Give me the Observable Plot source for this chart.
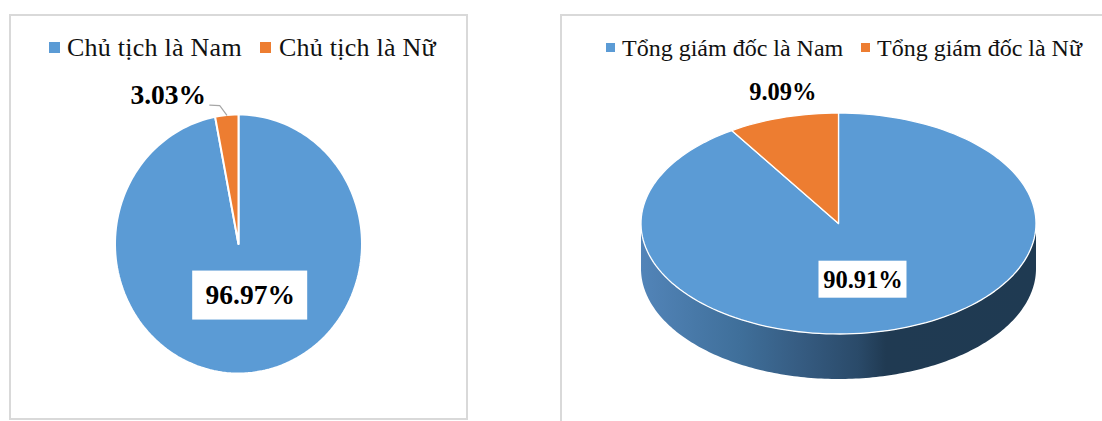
<!DOCTYPE html>
<html>
<head>
<meta charset="utf-8">
<script src="https://cdn.jsdelivr.net/npm/d3@7"></script>
<script src="https://cdn.jsdelivr.net/npm/@observablehq/plot@0.6"></script>
<style>
  html, body { margin: 0; padding: 0; background: #fff; }
  #page { position: relative; width: 1102px; height: 421px; overflow: hidden; font-family: "Liberation Serif", serif; }
  .frame { position: absolute; box-sizing: border-box; border: 2px solid #d9d9d9; }
  #frame-a { left: 9px; top: 14px; width: 459px; height: 406px; }
  #frame-b { left: 560px; top: 14px; width: 560px; height: 430px; }
  .panel { position: absolute; top: 0; width: 551px; height: 421px; }
  .panel svg { background: transparent; display: block; }
  .legend-item { position: absolute; white-space: nowrap; color: #111; line-height: 1; }
  .swatch { position: absolute; }
</style>
</head>
<body>
<div id="page">
  <div class="frame" id="frame-a"></div>
  <div class="frame" id="frame-b"></div>
  <div class="panel" id="panel-a" style="left:0"></div>
  <div class="panel" id="panel-b" style="left:551px"></div>
</div>
<script>
// Board chair and chief executive shares by gender
const chairCategories = ["Chủ tịch là Nam", "Chủ tịch là Nữ"];
const chairValues = [96.97, 3.03];
const ceoCategories = ["Tổng giám đốc là Nam", "Tổng giám đốc là Nữ"];
const ceoValues = [90.91, 9.09];
const sliceColors = ["#5b9bd5", "#ed7d31"];

const TAU = Math.PI * 2;
const arcSteps = 180;

// Turn a clockwise fraction of the circle into unit-circle coordinates, 0 at twelve o'clock.
const onCircle = (fraction, radius = 1) => ({
  x: Math.sin(fraction * TAU) * radius,
  y: Math.cos(fraction * TAU) * radius
});

// Closed polygon for a slice running between two cumulative fractions.
function slicePolygon(from, to) {
  const n = Math.max(2, Math.ceil((to - from) * arcSteps));
  return [{x: 0, y: 0}, ...d3.range(n + 1).map(i => onCircle(from + (to - from) * i / n))];
}

function layoutSlices(values) {
  const total = d3.sum(values);
  let running = 0;
  return values.map(v => {
    const from = running / total;
    running += v;
    const to = running / total;
    return {value: v, from, to, mid: (from + to) / 2, text: v.toFixed(2) + "%"};
  });
}

function pieScales(cx, cy, rx, ry) {
  return {
    x: {domain: [-1, 1], range: [cx - rx, cx + rx], axis: null},
    y: {domain: [-1, 1], range: [cy + ry, cy - ry], axis: null}
  };
}

const base = {width: 551, height: 421, margin: 0};
const labelFont = {fontFamily: "Liberation Serif", fontWeight: "bold", fill: "#000", lineAnchor: "middle"};

// Flat pie on the left
{
  const rx = 123.5, ry = 129.5;
  const slices = layoutSlices(chairValues);
  const [major, minor] = slices;

  const majorAt = onCircle(major.mid, 0.4);
  const majorLabel = {x: majorAt.x + 7 / rx, y: majorAt.y, text: major.text};
  const edge = onCircle(minor.mid);
  const leader = [edge, {x: edge.x - 7 / rx, y: edge.y + 9.5 / ry}, {x: edge.x - 17 / rx, y: edge.y + 10 / ry}];

  const plot = Plot.plot({
    ...base,
    ...pieScales(238, 243.5, rx, ry),
    marks: [
      slices.map((s, i) => Plot.line(slicePolygon(s.from, s.to), {
        x: "x", y: "y", fill: sliceColors[i], stroke: "#fff", strokeWidth: 2, curve: "linear-closed"
      })),
      Plot.rect([majorLabel], {
        x1: d => d.x - 57.5 / rx, x2: d => d.x + 57.5 / rx,
        y1: d => d.y - 24.5 / ry, y2: d => d.y + 24.5 / ry, fill: "#fff"
      }),
      Plot.text([majorLabel], {x: "x", y: "y", text: "text", fontSize: 27.5, ...labelFont}),
      Plot.line(leader, {x: "x", y: "y", stroke: "#a6a6a6", strokeWidth: 1.2}),
      Plot.text([{...edge, text: minor.text}], {x: "x", y: "y", text: "text", dx: -58.5, dy: -19.5, fontSize: 27.5, ...labelFont})
    ]
  });
  document.getElementById("panel-a").append(plot);
}

// Tilted pie with a shaded wall on the right
{
  const rx = 197.5, ry = 110.5, depth = 45 / ry;
  const slices = layoutSlices(ceoValues);
  const [major, minor] = slices;

  const frontArc = d3.range(arcSteps + 1).map(i => onCircle(0.25 + 0.5 * i / arcSteps));
  const wall = [...frontArc, ...frontArc.slice().reverse().map(p => ({x: p.x, y: p.y - depth}))];

  const majorAt = onCircle(major.mid, 0.53);
  const majorLabel = {x: majorAt.x - 5 / rx, y: majorAt.y, text: major.text};

  const wallGradient = () => {
    const defs = d3.create("svg:defs");
    const g = defs.append("linearGradient").attr("id", "wall-shade")
      .attr("x1", "0").attr("x2", "1").attr("y1", "0").attr("y2", "0");
    [["0%", "#5284b8"], ["25%", "#3f6f9a"], ["40%", "#365c82"], ["55%", "#2a4a69"], ["62%", "#203a52"], ["100%", "#1f3a52"]]
      .forEach(([offset, color]) => g.append("stop").attr("offset", offset).attr("stop-color", color));
    return defs.node();
  };

  const plot = Plot.plot({
    ...base,
    ...pieScales(838 - 551, 223, rx, ry),
    marks: [
      wallGradient,
      Plot.line(wall, {x: "x", y: "y", fill: "url(#wall-shade)", stroke: "none", curve: "linear-closed"}),
      slices.map((s, i) => Plot.line(slicePolygon(s.from, s.to), {
        x: "x", y: "y", fill: sliceColors[i], stroke: "#fff", strokeWidth: 1.3, curve: "linear-closed"
      })),
      Plot.rect([majorLabel], {
        x1: d => d.x - 44 / rx, x2: d => d.x + 44 / rx,
        y1: d => d.y - 18.5 / ry, y2: d => d.y + 18.5 / ry, fill: "#fff"
      }),
      Plot.text([majorLabel], {x: "x", y: "y", text: "text", fontSize: 24.5, ...labelFont}),
      Plot.text([{...onCircle(minor.mid), text: minor.text}], {x: "x", y: "y", text: "text", dy: -25, fontSize: 24.5, ...labelFont})
    ]
  });
  document.getElementById("panel-b").append(plot);
}

// Legends sit above each pie, inside its frame
const page = document.getElementById("page");
function addLegend(categories, entries, swatchSize, fontSize, spacing) {
  categories.forEach((name, i) => {
    const e = entries[i];
    const sw = document.createElement("div");
    sw.className = "swatch";
    sw.style.cssText = `left:${e.swatch}px;top:${e.swatchTop}px;width:${swatchSize}px;height:${swatchSize}px;background:${sliceColors[i]}`;
    const tx = document.createElement("div");
    tx.className = "legend-item";
    tx.textContent = name;
    tx.style.cssText = `left:${e.text}px;top:${e.textTop}px;font-size:${fontSize}px;letter-spacing:${spacing}px`;
    page.append(sw, tx);
  });
}
addLegend(chairCategories, [
  {swatch: 49, swatchTop: 42, text: 67, textTop: 35},
  {swatch: 260, swatchTop: 42, text: 279, textTop: 35}
], 11, 26, 0.25);
addLegend(ceoCategories, [
  {swatch: 606, swatchTop: 43, text: 622, textTop: 36},
  {swatch: 861, swatchTop: 43, text: 877, textTop: 36}
], 9, 24, 0);
</script>
</body>
</html>
